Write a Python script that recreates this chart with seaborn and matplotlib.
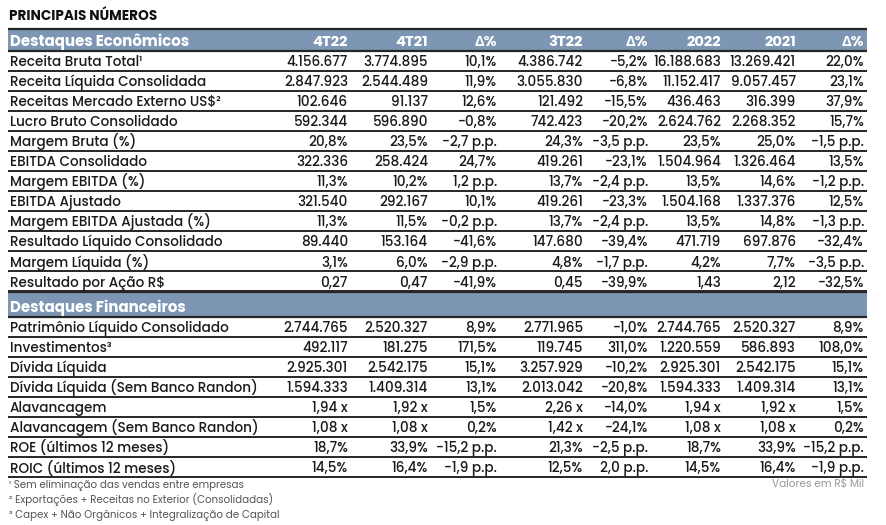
import pandas as pd
import matplotlib.pyplot as plt
import seaborn as sns
from matplotlib.patches import Rectangle

################################################################################
# data

columns = ['4T22', '4T21', 'Δ%', '3T22', 'Δ%', '2022', '2021', 'Δ%']

eco_labels = [
    'Receita Bruta Total¹',
    'Receita Líquida Consolidada',
    'Receitas Mercado Externo US$²',
    'Lucro Bruto Consolidado',
    'Margem Bruta (%)',
    'EBITDA Consolidado',
    'Margem EBITDA (%)',
    'EBITDA Ajustado',
    'Margem EBITDA Ajustada (%)',
    'Resultado Líquido Consolidado',
    'Margem Líquida (%)',
    'Resultado por Ação R$',
]
eco_values = [
    ['4.156.677', '3.774.895', '10,1%', '4.386.742', '-5,2%', '16.188.683', '13.269.421', '22,0%'],
    ['2.847.923', '2.544.489', '11,9%', '3.055.830', '-6,8%', '11.152.417', '9.057.457', '23,1%'],
    ['102.646', '91.137', '12,6%', '121.492', '-15,5%', '436.463', '316.399', '37,9%'],
    ['592.344', '596.890', '-0,8%', '742.423', '-20,2%', '2.624.762', '2.268.352', '15,7%'],
    ['20,8%', '23,5%', '-2,7 p.p.', '24,3%', '-3,5 p.p.', '23,5%', '25,0%', '-1,5 p.p.'],
    ['322.336', '258.424', '24,7%', '419.261', '-23,1%', '1.504.964', '1.326.464', '13,5%'],
    ['11,3%', '10,2%', '1,2 p.p.', '13,7%', '-2,4 p.p.', '13,5%', '14,6%', '-1,2 p.p.'],
    ['321.540', '292.167', '10,1%', '419.261', '-23,3%', '1.504.168', '1.337.376', '12,5%'],
    ['11,3%', '11,5%', '-0,2 p.p.', '13,7%', '-2,4 p.p.', '13,5%', '14,8%', '-1,3 p.p.'],
    ['89.440', '153.164', '-41,6%', '147.680', '-39,4%', '471.719', '697.876', '-32,4%'],
    ['3,1%', '6,0%', '-2,9 p.p.', '4,8%', '-1,7 p.p.', '4,2%', '7,7%', '-3,5 p.p.'],
    ['0,27', '0,47', '-41,9%', '0,45', '-39,9%', '1,43', '2,12', '-32,5%'],
]

fin_labels = [
    'Patrimônio Líquido Consolidado',
    'Investimentos³',
    'Dívida Líquida',
    'Dívida Líquida (Sem Banco Randon)',
    'Alavancagem',
    'Alavancagem (Sem Banco Randon)',
    'ROE (últimos 12 meses)',
    'ROIC (últimos 12 meses)',
]
fin_values = [
    ['2.744.765', '2.520.327', '8,9%', '2.771.965', '-1,0%', '2.744.765', '2.520.327', '8,9%'],
    ['492.117', '181.275', '171,5%', '119.745', '311,0%', '1.220.559', '586.893', '108,0%'],
    ['2.925.301', '2.542.175', '15,1%', '3.257.929', '-10,2%', '2.925.301', '2.542.175', '15,1%'],
    ['1.594.333', '1.409.314', '13,1%', '2.013.042', '-20,8%', '1.594.333', '1.409.314', '13,1%'],
    ['1,94 x', '1,92 x', '1,5%', '2,26 x', '-14,0%', '1,94 x', '1,92 x', '1,5%'],
    ['1,08 x', '1,08 x', '0,2%', '1,42 x', '-24,1%', '1,08 x', '1,08 x', '0,2%'],
    ['18,7%', '33,9%', '-15,2 p.p.', '21,3%', '-2,5 p.p.', '18,7%', '33,9%', '-15,2 p.p.'],
    ['14,5%', '16,4%', '-1,9 p.p.', '12,5%', '2,0 p.p.', '14,5%', '16,4%', '-1,9 p.p.'],
]

footnotes = [
    '¹ Sem eliminação das vendas entre empresas',
    '² Exportações + Receitas no Exterior (Consolidadas)',
    '³ Capex + Não Orgânicos + Integralização de Capital',
]

################################################################################
# layout

eco = pd.DataFrame(eco_values, index=eco_labels, columns=range(len(columns)))
fin = pd.DataFrame(fin_values, index=fin_labels, columns=range(len(columns)))

col_right = [348, 428, 497, 583, 648, 721, 796, 864]
x0, x1 = 8, 867
row_h = 20.05
band_color = '#7d96b3'
line_color = '#262626'
text_color = '#1a1a1a'
body_weight = 'medium'

sns.set_theme(style='white')
plt.rcParams['font.family'] = ['Poppins', 'Open Sans', 'DejaVu Sans']

fig = plt.figure(figsize=(8.86, 5.25), dpi=100)
ax = fig.add_axes([0, 0, 1, 1])
ax.set_xlim(0, 886)
ax.set_ylim(525, 0)
ax.axis('off')
renderer = fig.canvas.get_renderer()


def fit_size(sample, target_px, weight='normal'):
    # font size that makes the sample string about target_px wide
    t = ax.text(0, 0, sample, fontsize=10, fontweight=weight)
    w = t.get_window_extent(renderer).width
    t.remove()
    return 10 * target_px / w


label_fs = fit_size('Dívida Líquida (Sem Banco Randon)', 247, body_weight)
num_fs = min(fit_size('16.188.683', 68, body_weight), label_fs * 1.08)
title_fs = fit_size('PRINCIPAIS NÚMEROS', 148, 'bold')
band_fs = fit_size('Destaques Econômicos', 180, 'bold')
note_fs = fit_size(footnotes[2], 272)

ax.text(9, 19.5, 'PRINCIPAIS NÚMEROS', fontsize=title_fs, fontweight='bold',
        color='#111111', va='baseline', ha='left')


def draw_block(df, title, top, band_h):
    ax.add_patch(Rectangle((x0, top), x1 - x0, band_h, color=band_color, lw=0))
    ax.hlines([top, top + band_h], x0, x1, color=line_color, lw=1.6)
    ax.text(x0 + 2, top + band_h - 5, title, fontsize=band_fs, fontweight='bold',
            color='white', va='baseline', ha='left')
    y = top + band_h
    for i, (label, row) in enumerate(df.iterrows()):
        base = y + row_h * (i + 1) - 4.5
        ax.text(x0 + 2, base, label, fontsize=label_fs, fontweight=body_weight,
                color=text_color, va='baseline', ha='left')
        for j, val in enumerate(row):
            ax.text(col_right[j], base, val, fontsize=num_fs, fontweight=body_weight,
                    color=text_color, va='baseline', ha='right')
        ax.hlines(y + row_h * (i + 1), x0, x1, color=line_color, lw=1.4)
    return y + row_h * len(df)


bottom = draw_block(eco, 'Destaques Econômicos', 28.5, 22)
for j, col in enumerate(columns):
    ax.text(col_right[j], 45.5, col, fontsize=band_fs * 0.98, fontweight='bold',
            color='white', va='baseline', ha='right')

bottom = draw_block(fin, 'Destaques Financeiros', bottom + 0.5, 25)

for k, note in enumerate(footnotes):
    ax.text(x0 + 1, bottom + 11 + 15 * k, note, fontsize=note_fs, color='#555555',
            va='baseline', ha='left')
ax.text(864, bottom + 10, 'Valores em R$ Mil', fontsize=note_fs * 1.03, color='#999999',
        va='baseline', ha='right')

fig.savefig('out.png', dpi=100, facecolor='white')
